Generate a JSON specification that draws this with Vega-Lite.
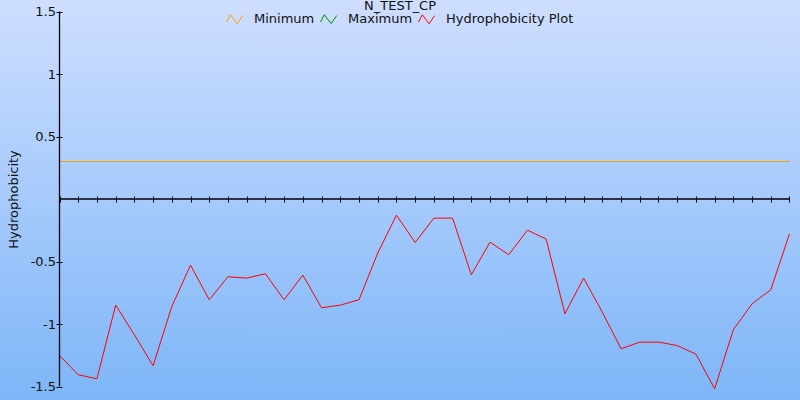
{
  "$schema": "https://vega.github.io/schema/vega-lite/v6.json",
  "width": 800,
  "height": 400,
  "autosize": {"type": "fit", "contains": "padding"},
  "padding": 0,
  "background": "#a8ccfb",
  "config": {
    "font": "DejaVu Sans",
    "view": {
      "stroke": null,
      "fill": {"gradient": "linear", "x1": 0, "y1": 0, "x2": 0, "y2": 1,
        "stops": [{"offset": 0, "color": "#cedeff"}, {"offset": 1, "color": "#7db6f8"}]}
    }
  },
  "layer": [
    {
      "data": {"values": [
        {"i": 0, "h": 0.3, "series": "Minimum"},
        {"i": 39, "h": 0.3, "series": "Minimum"},
        {"i": 0, "h": -1.252, "series": "Hydrophobicity Plot"},
        {"i": 1, "h": -1.406, "series": "Hydrophobicity Plot"},
        {"i": 2, "h": -1.438, "series": "Hydrophobicity Plot"},
        {"i": 3, "h": -0.849, "series": "Hydrophobicity Plot"},
        {"i": 4, "h": -1.086, "series": "Hydrophobicity Plot"},
        {"i": 5, "h": -1.334, "series": "Hydrophobicity Plot"},
        {"i": 6, "h": -0.86, "series": "Hydrophobicity Plot"},
        {"i": 7, "h": -0.529, "series": "Hydrophobicity Plot"},
        {"i": 8, "h": -0.806, "series": "Hydrophobicity Plot"},
        {"i": 9, "h": -0.622, "series": "Hydrophobicity Plot"},
        {"i": 10, "h": -0.633, "series": "Hydrophobicity Plot"},
        {"i": 11, "h": -0.598, "series": "Hydrophobicity Plot"},
        {"i": 12, "h": -0.806, "series": "Hydrophobicity Plot"},
        {"i": 13, "h": -0.609, "series": "Hydrophobicity Plot"},
        {"i": 14, "h": -0.87, "series": "Hydrophobicity Plot"},
        {"i": 15, "h": -0.849, "series": "Hydrophobicity Plot"},
        {"i": 16, "h": -0.806, "series": "Hydrophobicity Plot"},
        {"i": 17, "h": -0.433, "series": "Hydrophobicity Plot"},
        {"i": 18, "h": -0.129, "series": "Hydrophobicity Plot"},
        {"i": 19, "h": -0.348, "series": "Hydrophobicity Plot"},
        {"i": 20, "h": -0.153, "series": "Hydrophobicity Plot"},
        {"i": 21, "h": -0.153, "series": "Hydrophobicity Plot"},
        {"i": 22, "h": -0.606, "series": "Hydrophobicity Plot"},
        {"i": 23, "h": -0.345, "series": "Hydrophobicity Plot"},
        {"i": 24, "h": -0.446, "series": "Hydrophobicity Plot"},
        {"i": 25, "h": -0.249, "series": "Hydrophobicity Plot"},
        {"i": 26, "h": -0.321, "series": "Hydrophobicity Plot"},
        {"i": 27, "h": -0.918, "series": "Hydrophobicity Plot"},
        {"i": 28, "h": -0.633, "series": "Hydrophobicity Plot"},
        {"i": 29, "h": -0.905, "series": "Hydrophobicity Plot"},
        {"i": 30, "h": -1.198, "series": "Hydrophobicity Plot"},
        {"i": 31, "h": -1.145, "series": "Hydrophobicity Plot"},
        {"i": 32, "h": -1.145, "series": "Hydrophobicity Plot"},
        {"i": 33, "h": -1.172, "series": "Hydrophobicity Plot"},
        {"i": 34, "h": -1.241, "series": "Hydrophobicity Plot"},
        {"i": 35, "h": -1.518, "series": "Hydrophobicity Plot"},
        {"i": 36, "h": -1.046, "series": "Hydrophobicity Plot"},
        {"i": 37, "h": -0.838, "series": "Hydrophobicity Plot"},
        {"i": 38, "h": -0.726, "series": "Hydrophobicity Plot"},
        {"i": 39, "h": -0.278, "series": "Hydrophobicity Plot"}
      ]},
      "mark": {"type": "line", "strokeWidth": 1},
      "encoding": {
        "x": {
          "field": "i", "type": "quantitative",
          "scale": {"domain": [-3.179, 39.561], "nice": false, "zero": false},
          "axis": {
            "orient": "bottom", "offset": -204,
            "values": [0,1,2,3,4,5,6,7,8,9,10,11,12,13,14,15,16,17,18,19,20,21,22,23,24,25,26,27,28,29,30,31,32,33,34,35,36,37,38,39],
            "tickCount": 60,
            "labels": false, "domain": false, "grid": false, "title": null,
            "tickSize": 6, "tickColor": "#000", "tickWidth": 1
          }
        },
        "y": {
          "field": "h", "type": "quantitative",
          "scale": {"domain": [-1.608, 1.592], "nice": false, "zero": false},
          "axis": {
            "orient": "left", "offset": -62,
            "values": [-1.5, -1, -0.5, 0.5, 1, 1.5],
            "labelExpr": "'' + datum.value",
            "domain": false, "grid": false,
            "tickSize": 6, "tickColor": "#000", "tickWidth": 1,
            "labelPadding": 0.5, "labelFontSize": 13, "labelColor": "#111",
            "title": "Hydrophobicity", "titleFontSize": 13, "titleFontWeight": "normal",
            "titleColor": "#111", "titleX": -42, "titleY": 199, "titleAngle": 270,
            "titleBaseline": "bottom", "titleAlign": "center"
          }
        },
        "color": {
          "field": "series", "type": "nominal",
          "scale": {"domain": ["Minimum", "Maximum", "Hydrophobicity Plot"], "range": ["#ff9f00", "#008800", "#ff0000"]},
          "legend": {
            "orient": "none", "legendX": 226, "legendY": 0, "direction": "horizontal",
            "title": "N_TEST_CP", "titleOrient": "top", "titleAnchor": "middle",
            "titleFontSize": 13, "titleFontWeight": "normal", "titleColor": "#111", "titlePadding": -3,
            "labelFontSize": 13, "labelColor": "#111", "labelOffset": 10, "columnPadding": 3,
            "symbolType": "M-1,0.35L-0.55,-0.5L0.25,0.55L0.9,-0.4",
            "symbolSize": 289, "symbolStrokeWidth": 1, "symbolFillColor": "transparent", "padding": 0
          }
        }
      }
    },
    {
      "data": {"values": [{}]},
      "mark": {"type": "rule", "color": "#000", "strokeWidth": 1.3},
      "encoding": {
        "x": {"datum": 0, "type": "quantitative"},
        "y": {"datum": -1.5, "type": "quantitative"},
        "y2": {"datum": 1.5}
      }
    },
    {
      "data": {"values": [{}]},
      "mark": {"type": "rule", "color": "#000", "strokeWidth": 1.5},
      "encoding": {
        "x": {"datum": 0, "type": "quantitative"},
        "x2": {"datum": 39},
        "y": {"datum": 0, "type": "quantitative"}
      }
    }
  ]
}
